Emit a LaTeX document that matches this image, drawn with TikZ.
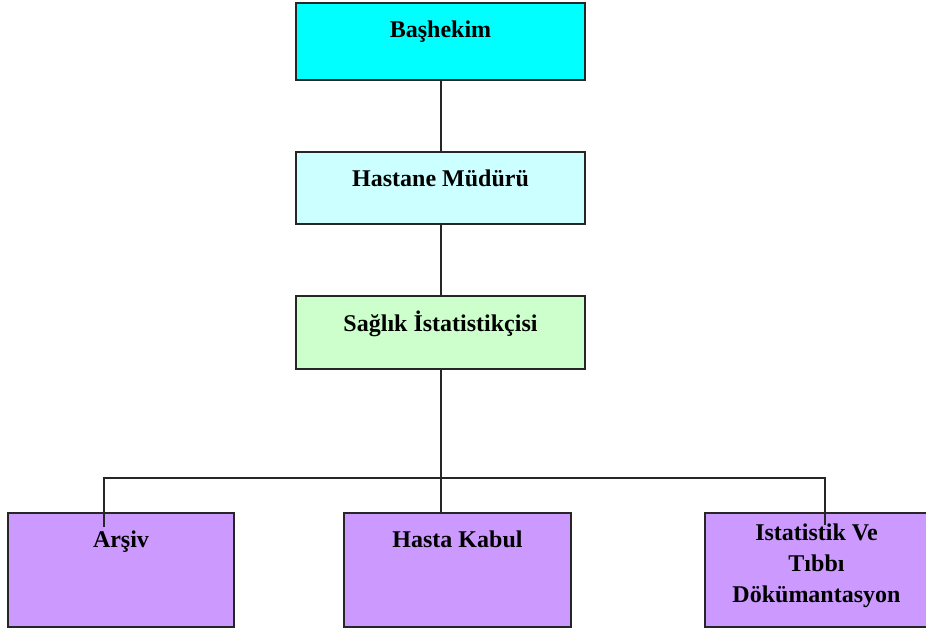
\documentclass[tikz,border=0pt]{standalone}
\usepackage{fontspec}
\setmainfont{Liberation Serif}
\usepackage{xcolor}
\usepackage{tikz}
\usetikzlibrary{positioning,calc}
\definecolor{hcyan}{HTML}{00FFFF}
\definecolor{hpale}{HTML}{CCFFFF}
\definecolor{hgreen}{HTML}{CCFFCC}
\definecolor{hlilac}{HTML}{CC99FF}

\begin{document}
\begin{tikzpicture}[x=1pt, y=-1pt, font=\fontsize{24}{31}\selectfont\bfseries,
  box/.style={draw=black!85, line width=2pt, inner sep=0pt},
  topbox/.style={box, minimum width=289pt, minimum height=77pt},
  unit/.style={box, fill=hlilac, minimum height=114pt},
  lbl/.style={align=center, inner sep=0pt, anchor=north},
  conn/.style={line width=2pt, black!85}]
\useasboundingbox (0,0) rectangle (926,633);
\clip (0,0) rectangle (926,633);
\fill[white] (0,0) rectangle (926,633);
% chain of command
\node[topbox, fill=hcyan] (bas) at (440.5,41) {};
\node[topbox, fill=hpale, minimum height=72pt] (mud) at (440.5,188) {};
\node[topbox, fill=hgreen, minimum height=73pt] (ist) at (440.5,332.5) {};
% units
\node[unit, minimum width=226pt] (ars) at (121,570) {};
\node[unit, minimum width=227pt] (kab) at (457.5,570) {};
\node[unit, minimum width=225pt] (dok) at (817.5,570) {};
\node[lbl] (basT) at ([yshift=-19pt]bas.north) {Başhekim};
\node[lbl] (mudT) at ([yshift=-19pt]mud.north) {Hastane Müdürü};
\node[lbl] (istT) at ([yshift=-16pt]ist.north) {Sağlık İstatistikçisi};
\node[lbl] (arsT) at ([yshift=-19pt]ars.north) {Arşiv};
\node[lbl] (kabT) at ([yshift=-19pt]kab.north) {Hasta Kabul};
\node[lbl] (dokT) at ([yshift=-12pt,xshift=-1pt]dok.north) {Istatistik Ve\\Tıbbı\\Dökümantasyon};
% connectors
\coordinate (busL) at (104,478);
\coordinate (busR) at (825,478);
\coordinate (arsTip) at (104,527);
\coordinate (dokTip) at (825,525);
\draw[conn] (bas) -- (mud);
\draw[conn] (mud) -- (ist);
\draw[conn] (ist.south) -- (ist.south |- kab.north);
\draw[conn] (arsTip) -- (busL) -- (busR) -- (dokTip);
\end{tikzpicture}
\end{document}
